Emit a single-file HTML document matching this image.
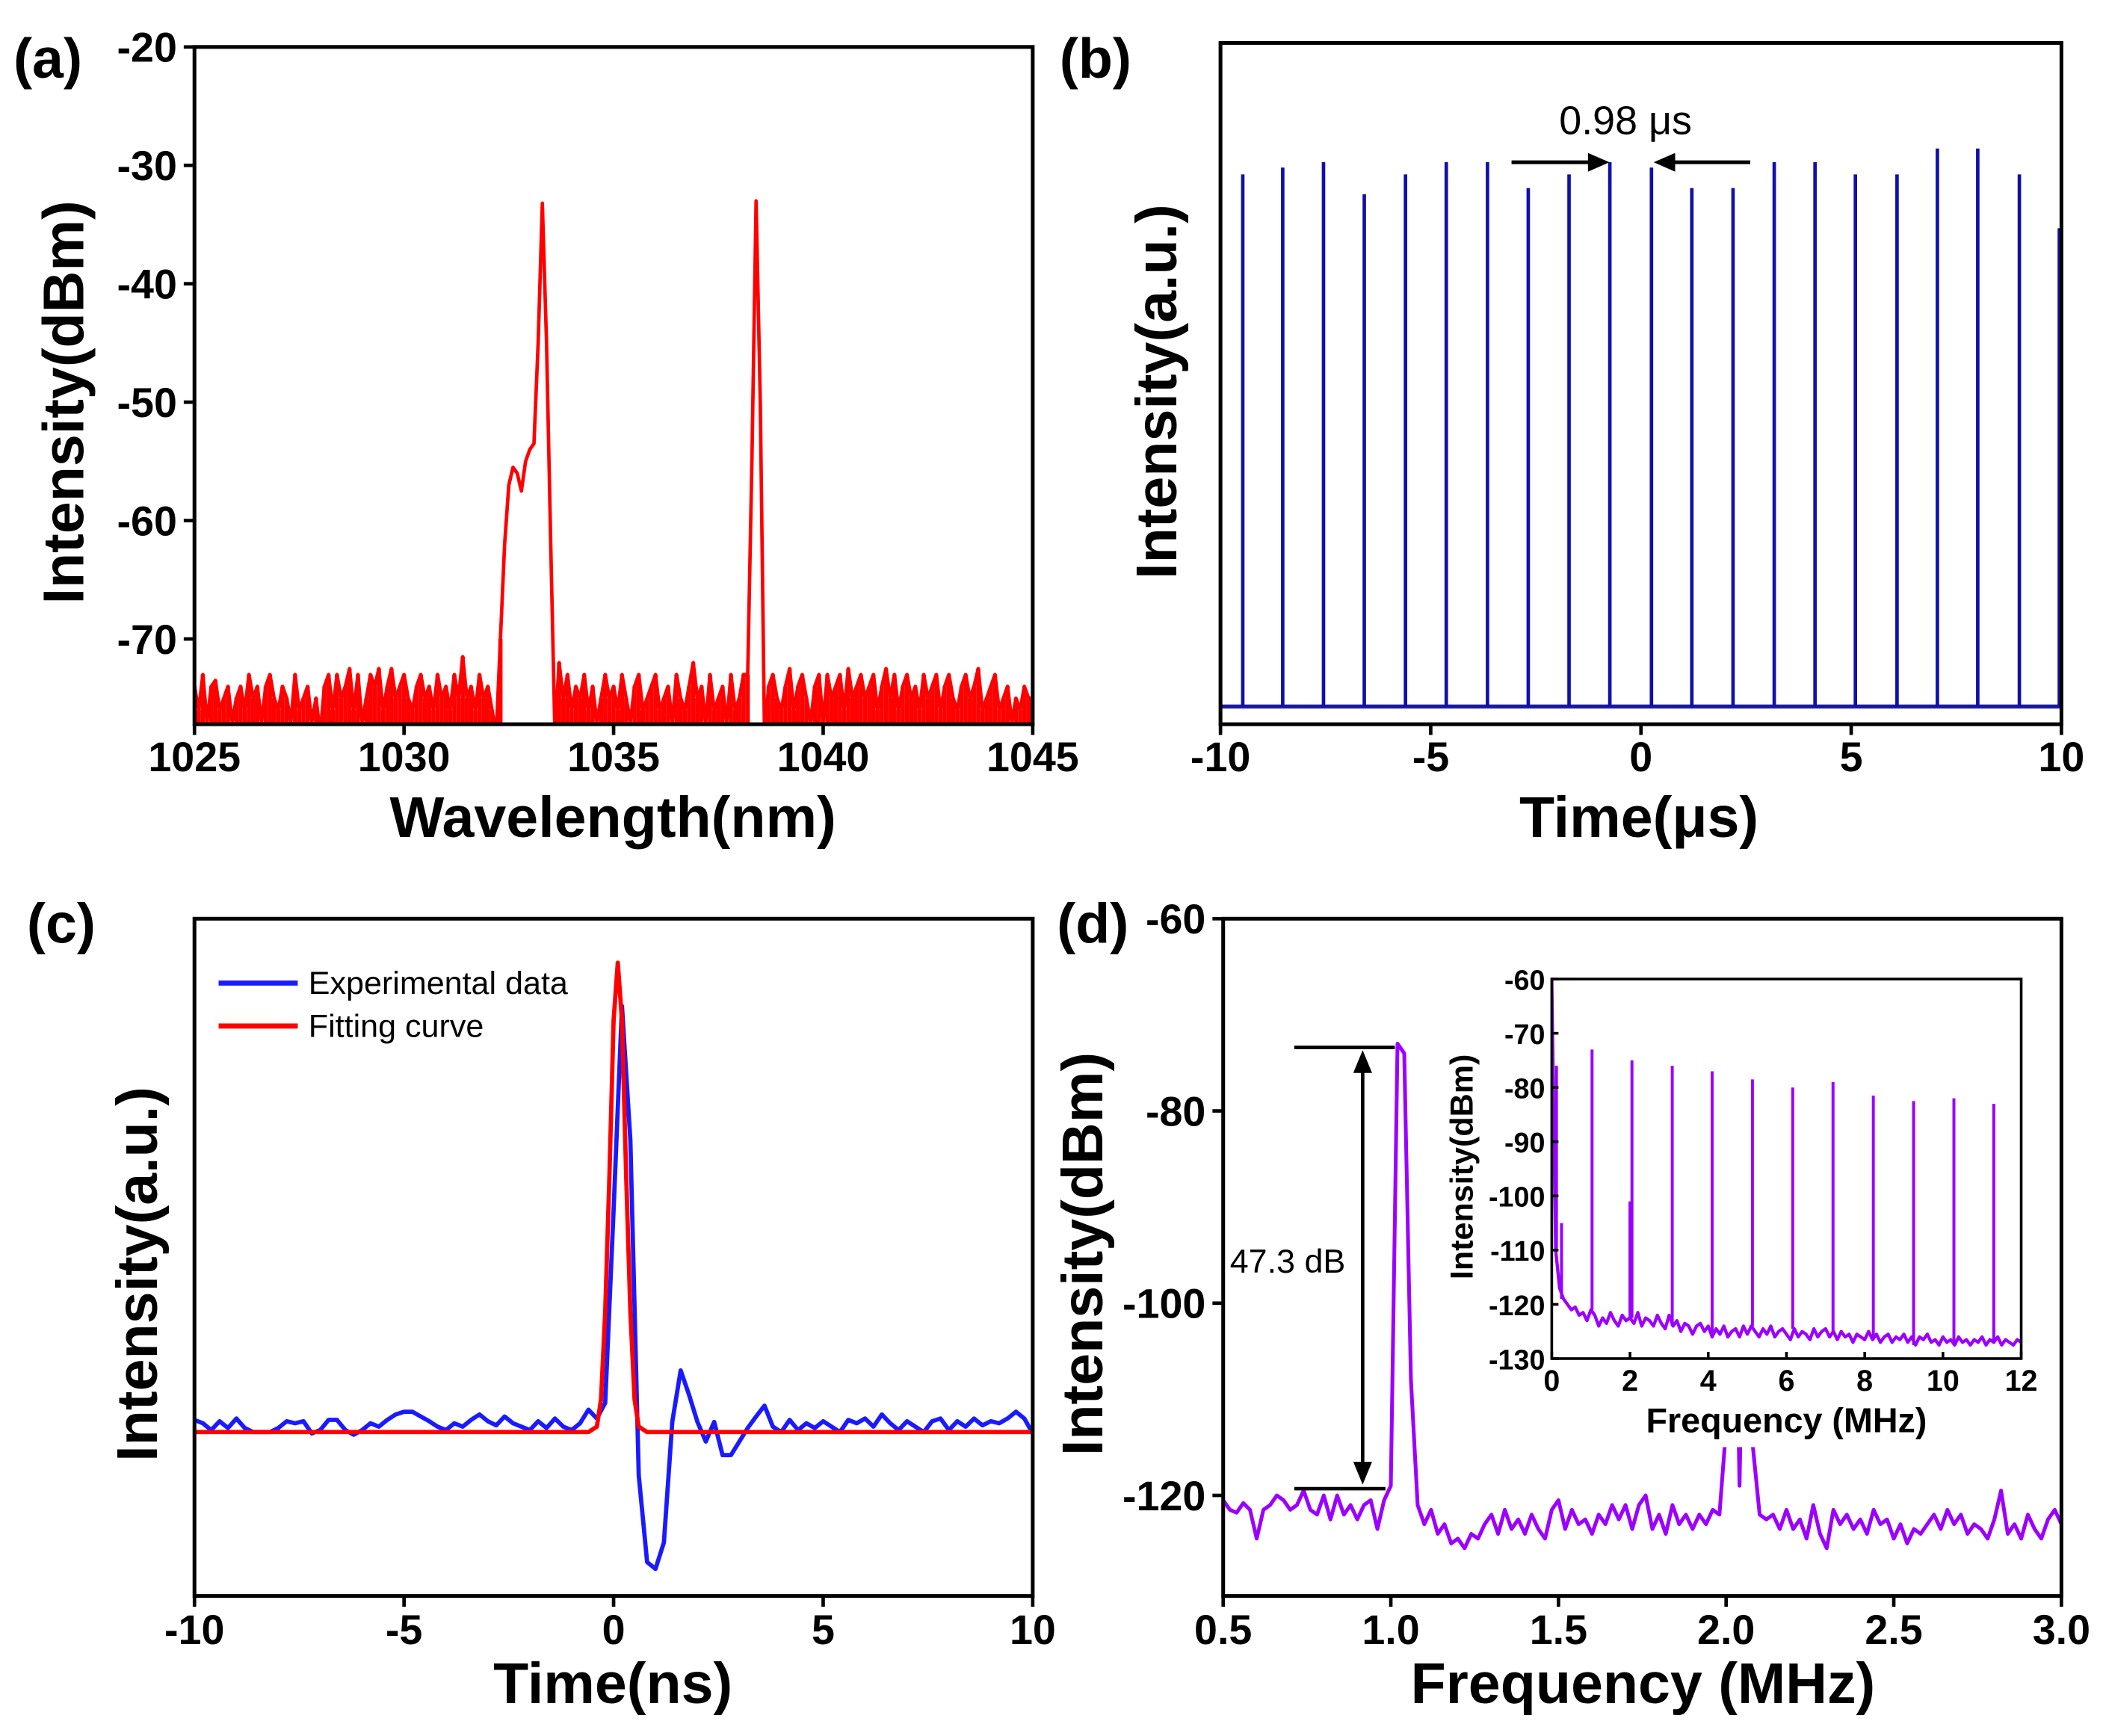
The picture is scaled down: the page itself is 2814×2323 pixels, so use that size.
<!DOCTYPE html>
<html><head><meta charset="utf-8">
<style>
html,body{margin:0;padding:0;background:#fff;}
svg{display:block;}
text{font-family:"Liberation Sans",Arial,sans-serif;}
</style></head>
<body>
<svg id="fig" xmlns="http://www.w3.org/2000/svg" width="2814" height="2323" viewBox="0 0 1568 1294.4">
<defs>
<clipPath id="clipA"><rect x="145" y="35" width="625" height="505"/></clipPath>
<clipPath id="clipB"><rect x="910" y="32" width="627" height="508"/></clipPath>
<clipPath id="clipC"><rect x="145" y="685" width="625" height="505"/></clipPath>
<clipPath id="clipD"><rect x="912" y="685" width="625" height="505"/></clipPath>
<clipPath id="clipI"><rect x="1157" y="730" width="350" height="283"/></clipPath>
</defs>
<g id="root"></g>
</svg>
<script>
// ---------- DATA ----------
const aStart = 1025, aStep = 0.1;
const aValues = [
-74,-76,-73,-77,-74,-73.5,-76,-75,-74,-77,
-75,-74,-76,-73,-75,-74,-77,-74,-73,-75,
-76,-74,-75,-77,-73,-76,-75,-74,-77,-75,
-78,-74,-73,-76,-73,-75,-74,-72.5,-76,-73,
-77,-75,-73,-74,-72.5,-76,-74,-72.5,-75,-74,
-73,-75,-76,-74,-73,-75,-74,-76,-73,-75,
-74,-76,-73,-75,-71.5,-75,-74,-76,-73,-75,
-74,-76,-78,-70,-62,-57,-55.5,-56,-57.5,-55,
-54,-53.5,-45,-33.2,-45,-62,-78,-72,-75,-73,
-76,-74,-75,-73,-76,-74,-77,-75,-73,-75,
-74,-76,-73,-75,-77,-74,-73,-76,-75,-74,
-73,-76,-75,-74,-77,-73,-75,-76,-74,-72,
-75,-74,-77,-73,-76,-75,-74,-77,-73,-76,
-75,-73,-73,-55,-33,-50,-78,-74,-73,-75,
-76,-74,-72.5,-76,-74,-73,-75,-77,-74,-73,
-77,-73,-75,-74,-73,-76,-72.5,-75,-74,-73,
-75,-74,-73,-76,-74,-72.5,-75,-73,-76,-74,
-73,-75,-74,-76,-73,-75,-74,-73,-76,-74,
-73,-75,-76,-74,-73,-75,-74,-72.5,-76,-75,
-74,-73,-76,-75,-74,-77,-75,-76,-74,-75,
-75];
const aXTicks = [1025,1030,1035,1040,1045];
const aYTicks = [-20,-30,-40,-50,-60,-70];

const bTimes = [-9.47,-8.52,-7.55,-6.58,-5.6,-4.63,-3.65,-2.68,-1.71,-0.74,0.25,1.21,2.19,3.17,4.14,5.1,6.09,7.05,8.01,9.0,9.95];
const bHeights = [0.807,0.817,0.825,0.778,0.807,0.825,0.825,0.787,0.807,0.825,0.817,0.787,0.787,0.825,0.825,0.807,0.807,0.845,0.845,0.807,0.728];
const bBaseline = 0.026;
const bXTicks = [-10,-5,0,5,10];

const cStart = -10, cStep = 0.2;
const cExp = [
.26,.255,.245,.258,.248,.262,.248,.242,.242,.242,
.248,.258,.255,.258,.24,.245,.26,.26,.245,.238,
.245,.255,.25,.26,.268,.272,.272,.265,.258,.25,
.245,.255,.25,.26,.268,.258,.252,.265,.255,.25,
.245,.258,.248,.262,.25,.245,.255,.275,.262,.285,
.57,.871,.673,.178,.05,.04,.079,.257,.333,.297,
.257,.228,.257,.208,.208,.228,.248,.265,.281,.25,
.242,.26,.245,.255,.248,.258,.25,.242,.26,.255,
.262,.25,.268,.255,.245,.258,.25,.242,.258,.262,
.245,.258,.25,.262,.252,.258,.255,.262,.272,.262,
.24];
const cFitT = [-10,-0.6,-0.4,-0.3,-0.2,-0.1,0,0.1,0.2,0.3,0.4,0.5,0.6,0.8,10];
const cFitV = [.242,.242,.25,.29,.42,.62,.85,.935,.85,.62,.42,.29,.25,.242,.242];
const cXTicks = [-10,-5,0,5,10];

const dStart = 0.5, dStep = 0.02;
const dValues = [
-120.5,-121.5,-121.8,-120.8,-121.5,-124.5,-121.5,-121,-120,-120.5,
-121.5,-121,-119.5,-121.5,-122,-120,-122.5,-120,-122,-121,
-122.5,-121,-120.5,-123.5,-120.5,-119,-73,-74,-108,-121,
-123,-121.5,-124,-123,-125,-124.5,-125.5,-124,-124.5,-123,
-122,-124,-121.5,-123.5,-122.5,-124,-122,-123.5,-124.5,-121.5,
-120.5,-123.5,-121.5,-123,-122.5,-124,-122,-123,-121,-122.5,
-121,-123.5,-121,-120,-123.5,-122,-124,-121,-123,-122,
-123.5,-122,-123,-121.5,-122,-113,-80,-119,-80,-115,
-122,-122.5,-122,-123.5,-121.5,-123.5,-122.5,-124.5,-121,-124,
-125.5,-121.5,-123,-122,-123.5,-122.5,-124,-121.5,-123,-122.5,
-124.5,-123,-125,-123.5,-124,-123,-122,-123.5,-121.5,-123,
-122,-124,-123,-123.5,-124.5,-122.5,-119.5,-124,-123,-124.5,
-122,-123.5,-124.5,-122.5,-121.5,-123];
const dXTicks = [0.5,1.0,1.5,2.0,2.5,3.0];
const dYTicks = [-60,-80,-100,-120];

const iStart = 0, iStep = 0.1;
const iBase = [
-60,-110,-117,-119,-120,-121,-120.5,-122,-121.5,-123,
-121,-122,-124,-122.5,-123.5,-121.5,-123,-124,-122,-123,
-122.5,-123.5,-121.5,-124,-122.5,-123,-124,-122,-123.5,-124.5,
-122,-124,-123,-125,-123.5,-124,-125.5,-124,-123.5,-125,
-124,-126,-124.5,-125.5,-124,-126,-125,-124.5,-126,-124,
-125.5,-124,-125,-126,-124.5,-125.5,-124,-126,-125,-124.5,
-125.5,-126.5,-124.5,-126,-125,-125.5,-126.5,-124.5,-126,-125,
-124.5,-126,-125,-126.5,-125,-126,-125.5,-127,-125.5,-126,
-126.5,-125,-126.5,-125.5,-127,-126,-125.5,-127,-126,-126.5,
-125.5,-127,-126,-127.5,-126,-126.5,-125.5,-127,-126.5,-127.5,
-126,-127,-126.5,-127.5,-126,-127,-126.5,-127.5,-126.5,-127,
-126,-127.5,-126.5,-127,-126,-127.5,-126.5,-127,-127.5,-126.5,
-127];
const iSpikeF = [0.12,0.25,1.03,2.0,2.05,3.08,4.1,5.13,6.16,7.19,8.22,9.25,10.28,11.3];
const iSpikeV = [-76,-105,-73,-101,-75,-76,-77,-78.5,-80,-79,-81.5,-82.5,-82,-83];
const iXTicks = [0,2,4,6,8,10,12];
const iYTicks = [-60,-70,-80,-90,-100,-110,-120,-130];

// ---------- HELPERS ----------
const NS = "http://www.w3.org/2000/svg";
const root = document.getElementById('root');
function mk(tag, attrs, parent, txt){
  const e = document.createElementNS(NS, tag);
  for (const k in attrs) e.setAttribute(k, attrs[k]);
  if (txt !== undefined) e.textContent = txt;
  (parent || root).appendChild(e);
  return e;
}
function lin(d0,d1,r0,r1){ return v => r0 + (v-d0)/(d1-d0)*(r1-r0); }
function frame(x,y,w,h,name,sw){
  const r = mk('rect',{x:x,y:y,width:w,height:h,fill:'none',stroke:'#000','stroke-width':sw||2.8});
  
  
}
function text(x,y,s,size,anchor,name,opts){
  opts = opts||{};
  const t = mk('text',{x:x,y:y,'font-size':size,'text-anchor':anchor||'middle','font-weight':opts.normal?'normal':'bold',fill:'#000'},root,s);
  if (opts.rot) t.setAttribute('transform','rotate(-90 '+x+' '+y+')');
  
  
  return t;
}
function tickLine(x1,y1,x2,y2,name,sw){
  const l = mk('line',{x1:x1,y1:y1,x2:x2,y2:y2,stroke:'#000','stroke-width':sw||2.6});
  
  
}
function poly(pts,color,clip,name,sw){
  const p = mk('polyline',{points:pts.map(q=>q[0].toFixed(2)+','+q[1].toFixed(2)).join(' '),fill:'none',stroke:color,'stroke-width':sw||2.6,'stroke-linejoin':'round','clip-path':'url(#'+clip+')'});
  
  
  return p;
}
const TICK = 31, TITLE = 43;

// ---------- PANEL A ----------
(function(){
  const X = lin(1025,1045,145,770), Y = lin(-20,-77.2,35,540);
  const w = X(aStart+aStep)-X(aStart);
  aValues.forEach((v,i)=>{
    if (v < -68 && v > -77.2) {
      const r = mk('rect',{x:X(aStart+i*aStep)-w/2,y:Y(v),width:w,height:540-Y(v),fill:'#ff0000','clip-path':'url(#clipA)'});
      
      
    }
  });
  const pts = aValues.map((v,i)=>[X(aStart+i*aStep), Y(v)]);
  poly(pts,'#ff0000','clipA','spectrum-line',2.6);
  frame(145,35,625,505,'panel-a-frame');
  aXTicks.forEach(t=>{ tickLine(X(t),540,X(t),548,'x-tick'); text(X(t),575,String(t),TICK,'middle','x-tick-label'); });
  aYTicks.forEach(t=>{ tickLine(137,Y(t),145,Y(t),'y-tick'); text(132,Y(t)+11,String(t),TICK,'end','y-tick-label'); });
  text(457,624,'Wavelength(nm)',TITLE,'middle','x-axis-title');
  text(62,300,'Intensity(dBm)',TITLE,'middle','y-axis-title',{rot:true});
  text(10,58,'(a)',42,'start','panel-label-a');
})();

// ---------- PANEL B ----------
(function(){
  const X = lin(-10,10,910,1537), Y = lin(0,1,540,32);
  const bl = mk('rect',{x:910,y:Y(bBaseline)-1.5,width:627,height:3,fill:'#1a1aa0','clip-path':'url(#clipB)'});
  
  
  bTimes.forEach((t,i)=>{
    const l = mk('line',{x1:X(t),y1:Y(bBaseline),x2:X(t),y2:Y(bHeights[i]),stroke:'#1010a8','stroke-width':2.6,'clip-path':'url(#clipB)'});
    
    
  });
  frame(910,32,627,508,'panel-b-frame');
  bXTicks.forEach(t=>{ tickLine(X(t),540,X(t),548,'x-tick'); text(X(t),575,String(t),TICK,'middle','x-tick-label'); });
  text(1222,624,'Time(\u03bcs)',TITLE,'middle','x-axis-title');
  text(877,292,'Intensity(a.u.)',TITLE,'middle','y-axis-title',{rot:true});
  text(790,58,'(b)',42,'start','panel-label-b');
  text(1212,100,'0.98 \u03bcs',30,'middle','period-label',{normal:true});
  const a1 = mk('line',{x1:1127,y1:121,x2:1188,y2:121,stroke:'#000','stroke-width':2.8});
  
  
  const h1 = mk('polygon',{points:'1200,121 1184,114 1184,128',fill:'#000'});
  
  
  const a2 = mk('line',{x1:1305,y1:121,x2:1245,y2:121,stroke:'#000','stroke-width':2.8});
  
  
  const h2 = mk('polygon',{points:'1233,121 1249,114 1249,128',fill:'#000'});
  
  
})();

// ---------- PANEL C ----------
(function(){
  const X = lin(-10,10,145,770), Y = lin(0,1,1190,685);
  poly(cExp.map((v,i)=>[X(cStart+i*cStep),Y(v)]),'#1a1aff','clipC','experimental-line',3.2);
  poly(cFitT.map((t,i)=>[X(t),Y(cFitV[i])]),'#ff0000','clipC','fitting-line',3.2);
  frame(145,685,625,505,'panel-c-frame');
  cXTicks.forEach(t=>{ tickLine(X(t),1190,X(t),1198,'x-tick'); text(X(t),1226,String(t),TICK,'middle','x-tick-label'); });
  text(457,1270,'Time(ns)',TITLE,'middle','x-axis-title');
  text(117,950,'Intensity(a.u.)',TITLE,'middle','y-axis-title',{rot:true});
  text(20,703,'(c)',42,'start','panel-label-c');
  const l1 = mk('line',{x1:163,y1:733,x2:222,y2:733,stroke:'#1a1aff','stroke-width':3.8});
  
  
  text(230,741,'Experimental data',24,'start','legend-entry-experimental',{normal:true});
  const l2 = mk('line',{x1:163,y1:765,x2:222,y2:765,stroke:'#ff0000','stroke-width':3.8});
  
  
  text(230,773,'Fitting curve',24,'start','legend-entry-fitting',{normal:true});
})();

// ---------- PANEL D ----------
(function(){
  const X = lin(0.5,3.0,912,1537), Y = lin(-60,-120,685,1115);
  poly(dValues.map((v,i)=>[X(dStart+i*dStep),Y(v)]),'#9b00ff','clipD','rf-spectrum-line',2.8);
  frame(912,685,625,505,'panel-d-frame');
  dXTicks.forEach(t=>{ tickLine(X(t),1190,X(t),1198,'x-tick'); text(X(t),1226,t.toFixed(1),TICK,'middle','x-tick-label'); });
  dYTicks.forEach(t=>{ tickLine(904,Y(t),912,Y(t),'y-tick'); text(899,Y(t)+11,String(t),TICK,'end','y-tick-label'); });
  text(1225,1270,'Frequency (MHz)',TITLE,'middle','x-axis-title');
  text(822,935,'Intensity(dBm)',TITLE,'middle','y-axis-title',{rot:true});
  text(788,703,'(d)',42,'start','panel-label-d');
  tickLine(965,781,1040,781,'snr-top-bar');
  tickLine(965,1110,1033,1110,'snr-bottom-bar');
  tickLine(1016,795,1016,1095,'snr-arrow-shaft');
  const h1 = mk('polygon',{points:'1016,783 1009,800 1023,800',fill:'#000'});
  
  
  const h2 = mk('polygon',{points:'1016,1107 1009,1090 1023,1090',fill:'#000'});
  
  
  text(917,949,'47.3 dB',25,'start','snr-label',{normal:true});

  const bg = mk('rect',{x:1065,y:722,width:460,height:357,fill:'#fff'});
  
  
  const IX = lin(0,12,1157,1507), IY = lin(-60,-130,730,1013);
  poly(iBase.map((v,i)=>[IX(iStart+i*iStep),IY(v)]),'#9b00ff','clipI','inset-spectrum-line',2.4);
  iSpikeF.forEach((f,i)=>{
    const base = iBase[Math.round((f-iStart)/iStep)];
    const l = mk('line',{x1:IX(f),y1:IY(base),x2:IX(f),y2:IY(iSpikeV[i]),stroke:'#9b00ff','stroke-width':2.2,'clip-path':'url(#clipI)'});
    
    
  });
  frame(1157,730,350,283,'inset-frame',2);
  iXTicks.forEach(t=>{ tickLine(IX(t),1013,IX(t),1008,'inset-x-tick',2); text(IX(t),1037,String(t),22,'middle','inset-x-tick-label'); });
  iYTicks.forEach(t=>{ tickLine(1157,IY(t),1162,IY(t),'inset-y-tick',2); text(1152,IY(t)+8,String(t),21,'end','inset-y-tick-label'); });
  text(1332,1068,'Frequency (MHz)',26,'middle','inset-x-axis-title');
  text(1098,870,'Intensity(dBm)',24,'middle','inset-y-axis-title',{rot:true});
})();
</script>
</body></html>
